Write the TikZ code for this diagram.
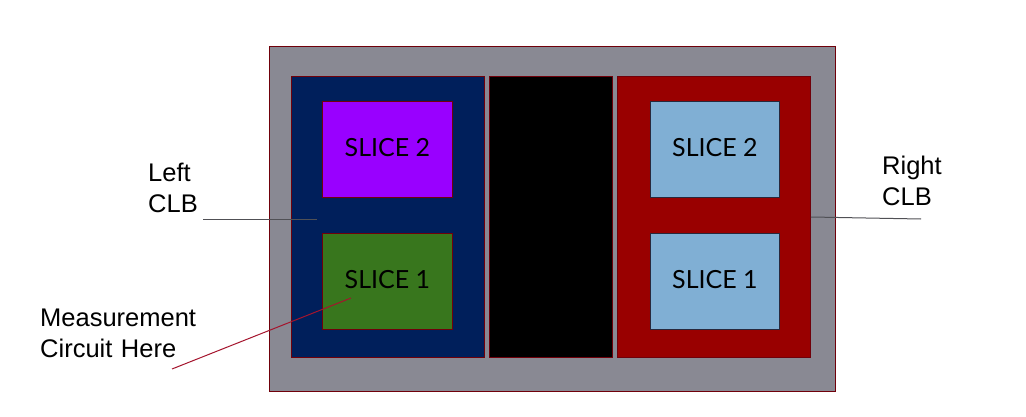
\documentclass[tikz,border=0pt]{standalone}
\usepackage{fontspec}
\setmainfont{Liberation Sans}
\newfontfamily\slicefont{Lato}
\definecolor{chipgrey}{RGB}{137,137,147}
\definecolor{clbblue}{RGB}{0,31,91}
\definecolor{clbred}{RGB}{153,0,0}
\definecolor{slpurple}{RGB}{153,0,255}
\definecolor{slgreen}{RGB}{56,118,29}
\definecolor{sllight}{RGB}{128,175,212}
\definecolor{edgered}{RGB}{112,0,10}
\definecolor{edgedark}{RGB}{40,40,60}
\definecolor{leadgrey}{RGB}{80,80,85}
\definecolor{leadred}{RGB}{165,20,45}
\begin{document}
\begin{tikzpicture}[x=1pt,y=-1pt,
  blk/.style={draw=edgered,line width=0.8pt,inner sep=0pt,anchor=north west},
  slicebox/.style={blk,font=\slicefont\fontsize{25}{30}\selectfont,text height=18pt,text depth=4pt},
  lbl/.style={font=\fontsize{25.5}{31}\selectfont,align=left,text width=200pt,inner sep=0pt,anchor=base west},
  lead/.style={line width=1pt}]
\useasboundingbox (0,0) rectangle (1026,417);
\fill[white] (0,0) rectangle (1026,417);
\node[blk,fill=chipgrey,minimum width=566pt,minimum height=345pt] (chip) at (269,46) {};
\node[blk,fill=clbblue,minimum width=193pt,minimum height=281pt] (lclb) at (291,76) {};
\node[blk,fill=black,minimum width=123pt,minimum height=281pt] (mid) at (489,76) {};
\node[blk,fill=clbred,minimum width=193pt,minimum height=281pt] (rclb) at (617,76) {};
\node[slicebox,fill=slpurple,minimum width=130pt,minimum height=96pt] (ls2) at (322,101) {SLICE 2};
\node[slicebox,fill=slgreen,minimum width=130pt,minimum height=96pt] (ls1) at (322,233) {SLICE 1};
\node[slicebox,draw=edgedark,fill=sllight,minimum width=129pt,minimum height=96pt] (rs2) at (650,101) {SLICE 2};
\node[slicebox,draw=edgedark,fill=sllight,minimum width=129pt,minimum height=96pt] (rs1) at (650,233) {SLICE 1};
\node[lbl] (lefttxt) at (148,182) {Left\\CLB};
\node[lbl] (meastxt) at (40,326.7) {Measurement\\Circuit Here};
\node[lbl] (righttxt) at (882,175) {Right\\CLB};
\coordinate (lstart) at (203,219);
\coordinate (lend) at (317,219);
\coordinate (mstart) at (172,369);
\coordinate (mend) at (351,298);
\coordinate (rstart) at (rclb.east |- 0,217);
\coordinate (rend) at (921,219);
\draw[lead,leadgrey] (lstart) -- (lend);
\draw[lead,leadred] (mstart) -- (mend);
\draw[lead,leadgrey] (rstart) -- (rend);
\end{tikzpicture}
\end{document}
